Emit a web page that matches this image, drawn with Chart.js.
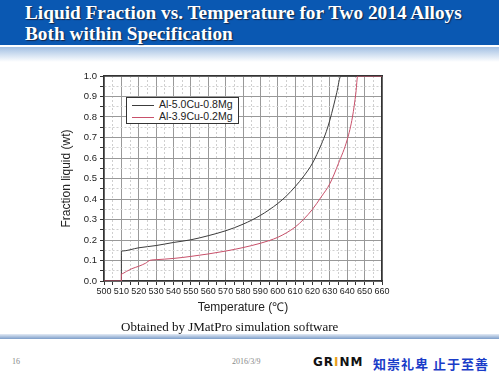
<!DOCTYPE html>
<html>
<head>
<meta charset="utf-8">
<script src="https://cdn.jsdelivr.net/npm/chart.js@4.4.0/dist/chart.umd.min.js"></script>
<style>
  body { margin: 0; width: 499px; height: 374px; background: #fff; position: relative; overflow: hidden; font-family: "Liberation Sans", Arial, sans-serif; }
  #head { position: absolute; left: 0; top: 0; width: 499px; height: 45px; background: #0a58b2; }
  #head2 { position: absolute; left: 0; top: 47px; width: 499px; height: 15px; background: linear-gradient(#a3c0e3, #ffffff); }
  #title { position: absolute; left: 25px; top: 2px; color: #fff; font: bold 19.3px/21px "Liberation Serif", "Times New Roman", serif; text-shadow: 1px 1px 1px #14264a; white-space: nowrap; }
  #wrap { position: absolute; left: 54px; top: 66px; width: 342px; height: 254px; }
  #legend { position: absolute; left: 126px; top: 97px; width: 111px; height: 25px; border: 1px solid #333; background: #fff; font-size: 10.5px; color: #222; }
  #legend div { height: 12px; line-height: 12px; white-space: nowrap; }
  #legend span { display: inline-block; width: 22px; height: 0; vertical-align: middle; margin: 0 5px 0 5px; }
  #caption { position: absolute; left: 121px; top: 319px; font: 13px "Liberation Serif", "Times New Roman", serif; color: #111; }
  #fline { position: absolute; left: 0; top: 334px; width: 499px; height: 5px; background: linear-gradient(#e3ebf5, #7c9dc9); }
  .foot { position: absolute; top: 357px; font: 8px "Liberation Serif", serif; color: #888; }
  #grinm { position: absolute; left: 313px; top: 355px; font: bold 12px "DejaVu Sans", sans-serif; letter-spacing: 1px; color: #111; }
  #grinm b { color: #e8a020; }
  #motto { position: absolute; left: 373px; top: 354px; font: bold 13px "Noto Sans CJK SC", sans-serif; color: #1a3cc8; letter-spacing: 1px; white-space: nowrap; }
</style>
</head>
<body>
<div id="head"></div>
<div id="head2"></div>
<div id="title">Liquid Fraction vs. Temperature for Two 2014 Alloys<br>Both within Specification</div>
<div id="wrap"><canvas id="chart"></canvas></div>
<div id="legend"></div>
<div id="caption">Obtained by JMatPro simulation software</div>
<div id="fline"></div>
<div class="foot" style="left:12px">16</div>
<div class="foot" style="left:232px">2016/3/9</div>
<div id="grinm">GR<b>I</b>NM</div>
<div id="motto">知崇礼卑 止于至善</div>
<script>
var seriesNames = ['Al-5.0Cu-0.8Mg', 'Al-3.9Cu-0.2Mg'];
var seriesColors = ['#3c3c3c', '#c8506a'];

var tempA = [500, 510, 510, 520, 530, 540, 550, 560, 570, 580, 590, 600, 605, 610, 615, 620, 625, 628, 630, 632, 634, 636.3, 660];
var fracA = [0, 0, 0.146, 0.162, 0.173, 0.188, 0.201, 0.221, 0.245, 0.277, 0.32, 0.378, 0.415, 0.46, 0.512, 0.575, 0.665, 0.73, 0.785, 0.85, 0.92, 1.0, 1.0];

var tempB = [500, 510, 510, 513, 516, 520, 524, 526.5, 530, 540, 550, 560, 570, 580, 590, 595, 600, 605, 610, 615, 620, 625, 630, 635, 640, 643, 645, 646, 660];
var fracB = [0, 0, 0.035, 0.047, 0.06, 0.072, 0.087, 0.101, 0.104, 0.11, 0.12, 0.132, 0.146, 0.163, 0.184, 0.197, 0.213, 0.235, 0.263, 0.302, 0.35, 0.41, 0.475, 0.575, 0.69, 0.8, 0.92, 1.0, 1.0];

var xTicks = [500, 510, 520, 530, 540, 550, 560, 570, 580, 590, 600, 610, 620, 630, 640, 650, 660];
var yTicks = [0.0, 0.1, 0.2, 0.3, 0.4, 0.5, 0.6, 0.7, 0.8, 0.9, 1.0];

function toPoints(xs, ys) {
    var pts = [];
    for (var i = 0; i < xs.length; i++) {
        pts.push({x: xs[i], y: ys[i]});
    }
    return pts;
}

var isMajorX = function(v) { return xTicks.indexOf(v) >= 0; };
var isMajorY = function(v) { return Math.round(v * 20) % 2 === 0; };

var legend = document.getElementById('legend');
for (var i = 0; i < seriesNames.length; i++) {
    legend.innerHTML += '<div><span style="border-top:1px solid ' + seriesColors[i] + '"></span>' + seriesNames[i] + '</div>';
}

var ctx = document.getElementById('chart').getContext('2d');
var chart = new Chart(ctx, {
    type: 'line',
    data: {
        datasets: [
            {
                label: seriesNames[1],
                data: toPoints(tempB, fracB),
                borderColor: seriesColors[1],
                borderWidth: 1,
                pointRadius: 0,
                cubicInterpolationMode: 'monotone',
                order: 0
            },
            {
                label: seriesNames[0],
                data: toPoints(tempA, fracA),
                borderColor: seriesColors[0],
                borderWidth: 1,
                pointRadius: 0,
                cubicInterpolationMode: 'monotone',
                order: 1
            }
        ]
    },
    options: {
        responsive: true,
        maintainAspectRatio: false,
        animation: false,
        layout: { padding: { left: 0, top: 10, right: 14, bottom: 0 } },
        plugins: { legend: { display: false }, tooltip: { enabled: false } },
        scales: {
            x: {
                type: 'linear',
                min: 500,
                max: 660,
                afterFit: function(s) { s.height = 39; },
                ticks: {
                    stepSize: 5,
                    autoSkip: false,
                    maxRotation: 0,
                    padding: 1,
                    color: '#222',
                    font: { size: 9, family: 'Liberation Sans' },
                    callback: function(v) { return isMajorX(v) ? String(v) : ''; }
                },
                grid: {
                    color: function(c) { return isMajorX(c.tick.value) ? '#999999' : '#cfcfcf'; },
                    tickColor: '#333',
                    tickLength: 4
                },
                border: {
                    color: '#333',
                    width: 1.5,
                    dash: function(c) { return c.tick && !isMajorX(c.tick.value) ? [2, 2] : []; }
                },
                title: { display: true, text: 'Temperature (℃)', color: '#222', font: { size: 12, family: 'Liberation Sans' }, padding: { top: 0, bottom: 5 } }
            },
            y: {
                min: 0,
                max: 1,
                afterFit: function(s) { s.width = 50; },
                ticks: {
                    stepSize: 0.05,
                    autoSkip: false,
                    color: '#222',
                    font: { size: 9.5, family: 'Liberation Sans' },
                    callback: function(v) { return isMajorY(v) ? yTicks[Math.round(v * 10)].toFixed(1) : ''; }
                },
                grid: {
                    color: function(c) { return isMajorY(c.tick.value) ? '#999999' : '#cfcfcf'; },
                    tickColor: '#333',
                    tickLength: 4
                },
                border: {
                    color: '#333',
                    width: 1.5,
                    dash: function(c) { return c.tick && !isMajorY(c.tick.value) ? [2, 2] : []; }
                },
                title: { display: true, text: 'Fraction liquid (wt)', color: '#222', font: { size: 12, family: 'Liberation Sans' }, padding: { top: 5, bottom: 0 } }
            },
            x2: {
                type: 'linear',
                position: 'top',
                min: 500,
                max: 660,
                afterFit: function(s) { s.height = 0; },
                ticks: { display: false },
                grid: { drawOnChartArea: false, drawTicks: false },
                border: { color: '#333', width: 1.5 }
            },
            y2: {
                position: 'right',
                min: 0,
                max: 1,
                afterFit: function(s) { s.width = 0; },
                ticks: { display: false },
                grid: { drawOnChartArea: false, drawTicks: false },
                border: { color: '#333', width: 1.5 }
            }
        }
    }
});
</script>
</body>
</html>
